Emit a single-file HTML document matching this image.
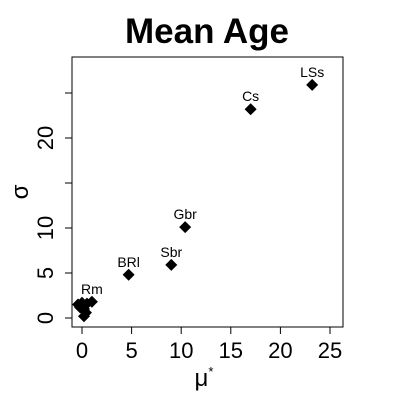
<!DOCTYPE html>
<html><head><meta charset="utf-8"><style>
body{margin:0;background:#fff}
svg{display:block;font-family:"Liberation Sans",Arial,sans-serif}
</style></head><body>
<svg id="c" width="400" height="400">
<text x="207" y="43" text-anchor="middle" font-size="35" font-weight="bold">Mean Age</text>
<rect x="72" y="57" width="271" height="270" fill="none" stroke="#000" stroke-width="1"/>
<g id="axes"></g>
<g id="pts"></g>
<text x="28" y="192" transform="rotate(-90 28 192)" text-anchor="middle" font-size="24">σ</text>
<text x="204" y="386" text-anchor="middle" font-size="24">μ<tspan dy="-10" font-size="13">*</tspan></text>
</svg>
<script>
const labels=["LSs","Cs","Gbr","Sbr","BRl","Rm","","","","","","",""];
const muStar=[23.2,17.0,10.4,9.0,4.7,1.0,0.2,0.4,0.2,-0.4,0.0,0.5,-0.2];
const sigma=[25.9,23.2,10.1,5.9,4.8,1.8,0.2,0.6,1.0,1.5,1.7,1.6,1.2];
const xTicks=[0,5,10,15,20,25];
const yTicks=[0,5,10,15,20,25];
const yTickLabels=["0","5","10","","20",""];
const NS="http://www.w3.org/2000/svg";
function xs(v){return 82+v*9.92;}
function ys(v){return 318-v*9.0;}
const ax=document.getElementById('axes'),pg=document.getElementById('pts');
function mk(t,a,p){const e=document.createElementNS(NS,t);for(const k in a)e.setAttribute(k,a[k]);p.appendChild(e);return e;}
xTicks.forEach(v=>{
 const l=mk('line',{x1:xs(v),x2:xs(v),y1:327,y2:334,stroke:'#000'},ax);
 
 
 const t=mk('text',{x:xs(v),y:358,'text-anchor':'middle','font-size':22},ax);
 t.textContent=v;
 
 
});
yTicks.forEach((v,i)=>{
 const l=mk('line',{x1:65,x2:72,y1:ys(v),y2:ys(v),stroke:'#000'},ax);
 
 
 if(yTickLabels[i]){
 const t=mk('text',{x:53,y:ys(v),'text-anchor':'middle','font-size':22,transform:`rotate(-90 53 ${ys(v)})`},ax);
 t.textContent=yTickLabels[i];
 
 }
});
muStar.forEach((m,i)=>{
 const x=xs(m),y=ys(sigma[i]);
 const p=mk('polygon',{points:`${x},${y-6} ${x+6},${y} ${x},${y+6} ${x-6},${y}`,fill:'#000'},pg);
 
 
 if(labels[i]){
  const t=mk('text',{x:x,y:y-8,'text-anchor':'middle','font-size':14},pg);
  t.textContent=labels[i];
  
  }
});
</script>
</body></html>
